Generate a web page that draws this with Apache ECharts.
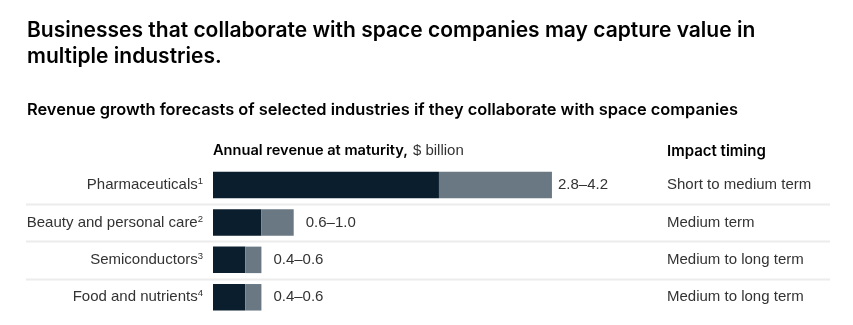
<!DOCTYPE html>
<html>
<head>
<meta charset="utf-8">
<script src="https://cdn.jsdelivr.net/npm/echarts@6/dist/echarts.min.js"></script>
<style>
  html, body { margin: 0; padding: 0; background: #fff; }
  #chart { width: 853px; height: 325px; }
</style>
</head>
<body>
<div id="chart"></div>
<script>
// Industries, their footnote markers and impact timing
const industries = ['Pharmaceuticals', 'Beauty and personal care', 'Semiconductors', 'Food and nutrients'];
const footnotes = ['1', '2', '3', '4'];
const timing = ['Short to medium term', 'Medium term', 'Medium to long term', 'Medium to long term'];
// Annual revenue at maturity, $ billion (low and high end of the range)
const revenueLow = [2.8, 0.6, 0.4, 0.4];
const revenueHigh = [4.2, 1.0, 0.6, 0.6];

const FONT = '"Liberation Sans", Arial, sans-serif';
const HEAD_FONT = 'Inter, "Liberation Sans", sans-serif';
const DARK = '#0a1e2d';
const GREY = '#6a7884';

const rangeLabels = revenueLow.map((lo, i) => lo.toFixed(1) + '\u2013' + revenueHigh[i].toFixed(1));

const chart = echarts.init(document.getElementById('chart'), null, { renderer: 'canvas' });

const option = {
  animation: false,
  backgroundColor: '#fff',
  title: [
    {
      text: 'Businesses that collaborate with space companies may capture value in\nmultiple industries.',
      left: 27, top: 18, padding: 0,
      textStyle: { fontFamily: HEAD_FONT, fontWeight: 600, fontSize: 21, lineHeight: 25.5, color: '#000' }
    },
    {
      text: 'Revenue growth forecasts of selected industries if they collaborate with space companies',
      left: 27, top: 100, padding: 0,
      textStyle: { fontFamily: HEAD_FONT, fontWeight: 600, fontSize: 16.4, lineHeight: 20, color: '#000' }
    },
    {
      text: '{b|Annual revenue at maturity,} {r|$ billion}',
      left: 213, top: 142, padding: 0,
      textStyle: {
        rich: {
          b: { fontFamily: HEAD_FONT, fontWeight: 600, fontSize: 14.6, lineHeight: 18, color: '#000' },
          r: { fontFamily: FONT, fontWeight: 'normal', fontSize: 15, lineHeight: 18, color: '#333' }
        }
      }
    },
    {
      text: 'Impact timing',
      left: 667, top: 142, padding: 0,
      textStyle: { fontFamily: HEAD_FONT, fontWeight: 600, fontSize: 15, lineHeight: 18, color: '#000' }
    }
  ],
  grid: { left: 213, top: 166.3, width: 403.5, height: 149.7, containLabel: false },
  xAxis: {
    type: 'value', min: 0, max: 5,
    show: false
  },
  yAxis: [
    {
      type: 'category', inverse: true, data: industries,
      axisLine: { show: false }, axisTick: { show: false }, splitLine: { show: false },
      axisLabel: {
        margin: 10,
        formatter: (v, i) => '{n|' + v + '}{s|' + footnotes[i] + '}',
        rich: {
          n: { fontFamily: FONT, fontSize: 15, lineHeight: 17, color: '#333' },
          s: { fontFamily: FONT, fontSize: 9.5, lineHeight: 9.5, verticalAlign: 'top', color: '#333' }
        }
      }
    },
    {
      type: 'category', inverse: true, position: 'right', data: timing,
      axisLine: { show: false }, axisTick: { show: false }, splitLine: { show: false },
      axisLabel: {
        margin: 50.5, align: 'left',
        fontFamily: FONT, fontSize: 15, color: '#333'
      }
    }
  ],
  series: [
    {
      name: 'Low', type: 'bar', stack: 'rev', barWidth: 26.5,
      data: revenueLow,
      itemStyle: { color: DARK }
    },
    {
      name: 'High', type: 'bar', stack: 'rev', barWidth: 26.5,
      data: revenueHigh.map((hi, i) => ({
        value: +(hi - revenueLow[i]).toFixed(2),
        // the widest bar keeps its range label a little closer
        label: { distance: i === 0 ? 6 : 12 }
      })),
      itemStyle: { color: GREY },
      label: {
        show: true, position: 'right',
        formatter: p => rangeLabels[p.dataIndex],
        fontFamily: FONT, fontSize: 15, color: '#333'
      }
    }
  ]
};

chart.setOption(option);

// Row separators between categories, spanning the full table width
const sepLines = [];
for (let i = 0; i < industries.length - 1; i++) {
  const y0 = chart.convertToPixel({ yAxisIndex: 0 }, industries[i]);
  const y1 = chart.convertToPixel({ yAxisIndex: 0 }, industries[i + 1]);
  const y = Math.round((y0 + y1) / 2) + 0.5;
  sepLines.push({
    type: 'line', silent: true,
    shape: { x1: 26, y1: y, x2: 830, y2: y },
    style: { stroke: '#ececec', lineWidth: 2 }
  });
}
chart.setOption({ graphic: sepLines });
</script>
</body>
</html>
